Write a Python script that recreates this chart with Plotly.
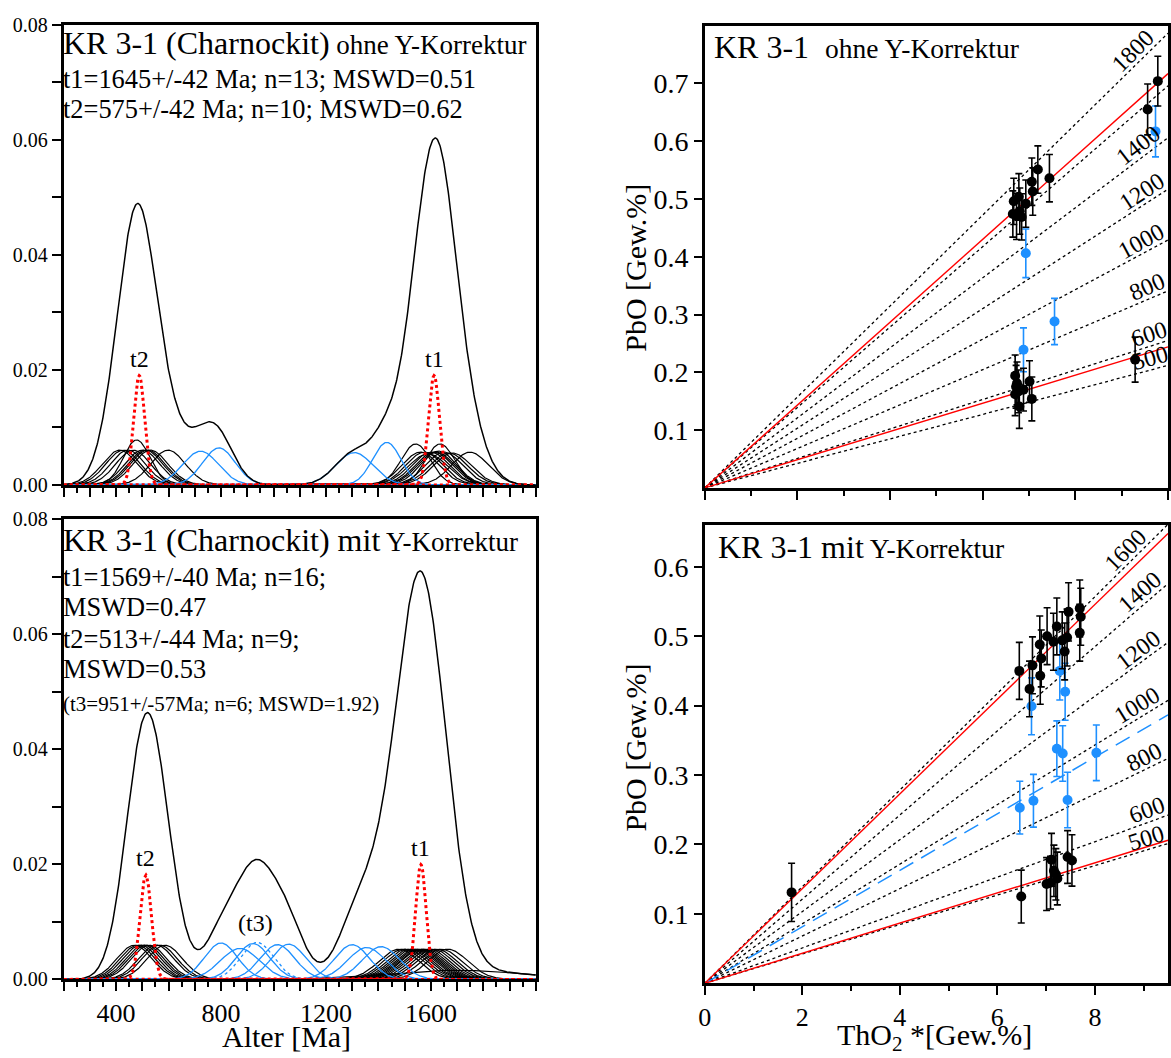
import numpy as np
import plotly.graph_objects as go

# ---------------- data ----------------
# Probability density plots: single analyses (age [Ma], 1-sigma [Ma])
tl_black_age = [414, 427, 445, 465, 478, 500, 512, 520, 531, 598,
                1542, 1560, 1575, 1589, 1600, 1612, 1620, 1629, 1635, 1650, 1668, 1682, 1749]
tl_black_sig = [66, 66, 66, 66, 51, 66, 66, 66, 66, 66,
                56, 70, 70, 74, 70, 70, 70, 68, 56, 70, 72, 72, 70]
tl_blue_age = [722, 792, 1308, 1432]
tl_blue_sig = [68, 62, 71, 54]
tl_red_age = [488, 1612]
tl_red_sig = [21, 21]

bl_black_age = [470, 482, 493, 505, 515, 526, 553, 566, 586,
                1478, 1495, 1508, 1520, 1530, 1540, 1548, 1556, 1563, 1572, 1582, 1594, 1608,
                1622, 1640, 1665, 1700]
bl_black_sig = [67, 67, 67, 67, 67, 67, 67, 67, 67,
                76, 76, 76, 76, 76, 76, 76, 76, 76, 76, 76, 76, 76, 76, 76, 76, 250]
bl_blue_age = [800, 872, 922, 1015, 1058, 1300, 1355, 1410]
bl_blue_sig = [63, 74, 64, 66, 65, 66, 72, 70]
bl_bluedot_age = [938]
bl_bluedot_sig = [62]
bl_red_age = [513, 1562]
bl_red_sig = [22, 20]

# Isochron plots (ThO2* vs PbO, wt%)
tr_black_x = [6.65, 6.67, 6.78, 6.80, 6.84, 6.93, 7.06, 7.08, 7.19, 7.44, 6.73, 9.56, 9.78,
              6.70, 6.74, 6.70, 6.77, 6.79, 6.88, 7.01, 7.06, 9.29, 6.72]
tr_black_y = [0.474, 0.496, 0.504, 0.479, 0.469, 0.492, 0.530, 0.513, 0.551, 0.536, 0.470, 0.655, 0.704,
              0.194, 0.181, 0.162, 0.167, 0.141, 0.170, 0.184, 0.154, 0.222, 0.175]
tr_black_e = [0.040, 0.040, 0.040, 0.040, 0.040, 0.041, 0.041, 0.041, 0.041, 0.041, 0.040, 0.044, 0.043,
              0.036, 0.037, 0.037, 0.037, 0.038, 0.037, 0.036, 0.038, 0.039, 0.037]
tr_blue_x = [9.73, 6.93, 7.55, 6.88]
tr_blue_y = [0.617, 0.406, 0.288, 0.239]
tr_blue_e = [0.044, 0.042, 0.040, 0.038]

br_black_x = [6.45, 6.66, 6.72, 6.88, 6.90, 6.87, 7.02, 7.15, 7.22, 7.33, 7.38, 7.43, 7.46, 7.69, 7.71, 7.69, 1.78,
              6.49, 7.01, 7.09, 7.11, 7.16, 7.20, 7.23, 7.44, 7.53]
br_black_y = [0.450, 0.424, 0.458, 0.443, 0.468, 0.488, 0.500, 0.492, 0.514, 0.494, 0.478, 0.498, 0.535, 0.540,
              0.528, 0.505, 0.131,
              0.125, 0.143, 0.145, 0.178, 0.162, 0.157, 0.151, 0.182, 0.177]
br_black_e = [0.041, 0.040, 0.041, 0.041, 0.041, 0.041, 0.041, 0.041, 0.041, 0.041, 0.041, 0.041, 0.042, 0.041,
              0.041, 0.041, 0.042,
              0.038, 0.038, 0.038, 0.038, 0.037, 0.037, 0.038, 0.038, 0.037]
br_blue_x = [7.28, 7.39, 6.70, 7.22, 7.34, 8.03, 6.46, 6.74, 7.44]
br_blue_y = [0.450, 0.420, 0.399, 0.338, 0.331, 0.332, 0.253, 0.263, 0.264]
br_blue_e = [0.042, 0.041, 0.041, 0.040, 0.040, 0.040, 0.038, 0.038, 0.040]

# reference isochrons (age label, slope PbO/ThO2*, label position along ThO2*)
tr_iso_age = [500, 600, 800, 1000, 1200, 1400, 1600, 1800]
tr_iso_slope = [0.0212, 0.0255, 0.0341, 0.0429, 0.0517, 0.0606, 0.0696, 0.0787]
tr_iso_lab = ["500", "600", "800", "1000", "1200", "1400", "", "1800"]
tr_iso_labx = [9.67, 9.67, 9.64, 9.55, 9.57, 9.52, 9.5, 9.42]
br_iso_age = [500, 600, 800, 1000, 1200, 1400, 1600]
br_iso_slope = [0.0212, 0.0255, 0.0341, 0.0429, 0.0517, 0.0606, 0.0696]
br_iso_lab = ["500", "600", "800", "1000", "1200", "1400", "1600"]
br_iso_labx = [9.12, 9.15, 9.12, 9.0, 9.03, 9.08, 8.8]
tr_fit_slope = [0.0717, 0.0244]     # t1 = 1645 Ma, t2 = 575 Ma
br_fit_slope = [0.0682, 0.0217]     # t1 = 1569 Ma, t2 = 513 Ma
br_t3_slope = [0.0407]              # t3 = 951 Ma

# ---------------- style ----------------
W, H = 1171, 1058
FONT = "Liberation Serif"
BLUE = "#1E90FF"
RED = "#FF0000"
L_X = [57, 532]
R_X = [702, 1168]
TL_Y = [14, 484]
BL_Y = [519, 989]
TR_Y = [15, 487]
BR_Y = [525, 993]
TR_XR = [0, 10]
BR_XR = [0, 9.5]
TR_YR = [0, 0.8]
BR_YR = [0, 0.66]


def dom_x(px):
    return [px[0] / W, px[1] / W]


def dom_y(py):
    return [(H - py[1]) / H, (H - py[0]) / H]


grid = np.arange(200, 2001, 2.0)


def pdf(mu, s):
    return np.exp(-0.5 * ((grid - mu) / s) ** 2) / (s * np.sqrt(2 * np.pi))


fig = go.Figure()


def add_pdf_panel(xa, ya, black_a, black_s, blue_a, blue_s, red_a, red_s, dot_a=(), dot_s=()):
    total = np.zeros_like(grid)
    for a, s in zip(black_a, black_s):
        c = pdf(a, s)
        total += c
        fig.add_trace(go.Scatter(x=grid, y=c, mode="lines", xaxis=xa, yaxis=ya,
                                 line=dict(color="black", width=1.2), showlegend=False, hoverinfo="skip"))
    for a, s in zip(blue_a, blue_s):
        c = pdf(a, s)
        total += c
        fig.add_trace(go.Scatter(x=grid, y=c, mode="lines", xaxis=xa, yaxis=ya,
                                 line=dict(color=BLUE, width=1.3), showlegend=False, hoverinfo="skip"))
    for a, s in zip(dot_a, dot_s):
        c = pdf(a, s)
        total += c
        fig.add_trace(go.Scatter(x=grid, y=c, mode="lines", xaxis=xa, yaxis=ya,
                                 line=dict(color=BLUE, width=1.3, dash="dot"), showlegend=False,
                                 hoverinfo="skip"))
    fig.add_trace(go.Scatter(x=grid, y=total, mode="lines", xaxis=xa, yaxis=ya,
                             line=dict(color="black", width=1.5), showlegend=False, hoverinfo="skip"))
    for a, s in zip(red_a, red_s):
        fig.add_trace(go.Scatter(x=grid, y=pdf(a, s), mode="lines", xaxis=xa, yaxis=ya,
                                 line=dict(color=RED, width=3, dash="dot"), showlegend=False,
                                 hoverinfo="skip"))


add_pdf_panel("x", "y", tl_black_age, tl_black_sig, tl_blue_age, tl_blue_sig, tl_red_age, tl_red_sig)
add_pdf_panel("x3", "y3", bl_black_age, bl_black_sig, bl_blue_age, bl_blue_sig, bl_red_age, bl_red_sig,
              bl_bluedot_age, bl_bluedot_sig)

annotations = []


def add_iso_panel(xa, ya, xr, yr, px_x, px_y, iso_slope, iso_lab, iso_labx, fit_slope, t3_slope,
                  bx, by, be, ux, uy, ue):
    xmax = xr[1]
    sx = (px_x[1] - px_x[0]) / (xr[1] - xr[0])
    sy = (px_y[1] - px_y[0]) / (yr[1] - yr[0])
    for sl, lab, lx in zip(iso_slope, iso_lab, iso_labx):
        fig.add_trace(go.Scatter(x=[0, xmax], y=[0, sl * xmax], mode="lines", xaxis=xa, yaxis=ya,
                                 line=dict(color="black", width=1.3, dash="dot"), showlegend=False,
                                 hoverinfo="skip"))
        if lab:
            ang = np.degrees(np.arctan(sl * sy / sx))
            d = 12
            annotations.append(dict(x=lx, y=sl * lx, xref=xa, yref=ya, text=lab, showarrow=False,
                                    textangle=-ang, font=dict(family=FONT, size=24, color="black"),
                                    xshift=-d * np.sin(np.radians(ang)), yshift=d * np.cos(np.radians(ang))))
    for sl in t3_slope:
        fig.add_trace(go.Scatter(x=[0, xmax], y=[0, sl * xmax], mode="lines", xaxis=xa, yaxis=ya,
                                 line=dict(color=BLUE, width=1.5, dash="16px,9px"), showlegend=False,
                                 hoverinfo="skip"))
    for sl in fit_slope:
        fig.add_trace(go.Scatter(x=[0, xmax], y=[0, sl * xmax], mode="lines", xaxis=xa, yaxis=ya,
                                 line=dict(color=RED, width=1.4), showlegend=False, hoverinfo="skip"))
    fig.add_trace(go.Scatter(x=ux, y=uy, mode="markers", xaxis=xa, yaxis=ya,
                             marker=dict(color=BLUE, size=10),
                             error_y=dict(type="data", array=ue, color=BLUE, thickness=1.6, width=3.5),
                             showlegend=False, hoverinfo="skip"))
    fig.add_trace(go.Scatter(x=bx, y=by, mode="markers", xaxis=xa, yaxis=ya,
                             marker=dict(color="black", size=10),
                             error_y=dict(type="data", array=be, color="black", thickness=1.6, width=3.5),
                             showlegend=False, hoverinfo="skip"))


add_iso_panel("x2", "y2", TR_XR, TR_YR, R_X, TR_Y, tr_iso_slope, tr_iso_lab, tr_iso_labx, tr_fit_slope, [],
              tr_black_x, tr_black_y, tr_black_e, tr_blue_x, tr_blue_y, tr_blue_e)
add_iso_panel("x4", "y4", BR_XR, BR_YR, R_X, BR_Y, br_iso_slope, br_iso_lab, br_iso_labx, br_fit_slope,
              br_t3_slope, br_black_x, br_black_y, br_black_e, br_blue_x, br_blue_y, br_blue_e)

# ---------------- axes ----------------
axcommon = dict(showline=True, linewidth=2.6, linecolor="black", mirror=True, showgrid=False,
                zeroline=False, ticks="outside", tickcolor="black", tickwidth=2, tickangle=0,
                tickfont=dict(family=FONT, color="black"))

age_major = list(range(200, 2001, 100))
age_minor = list(range(250, 2000, 100))
age_text_none = [""] * len(age_major)
age_text = [str(v) if v in (400, 800, 1200, 1600) else "" for v in age_major]
dens_vals = [round(0.01 * i, 2) for i in range(9)]
dens_text = ["%.2f" % v if i % 2 == 0 else "" for i, v in enumerate(dens_vals)]

fig.update_layout(
    width=W, height=H, margin=dict(l=0, r=0, t=0, b=0),
    paper_bgcolor="white", plot_bgcolor="white", showlegend=False,
    xaxis=dict(axcommon, domain=dom_x(L_X), anchor="y", range=[200, 2000], tickvals=age_major,
               ticktext=age_text_none, ticklen=9,
               minor=dict(tickvals=age_minor, ticklen=5, tickwidth=2, ticks="outside", tickcolor="black")),
    yaxis=dict(axcommon, domain=dom_y(TL_Y), anchor="x", range=[0, 0.08], tickvals=dens_vals,
               ticktext=dens_text, ticklen=9, tickfont=dict(family=FONT, size=20, color="black")),
    xaxis3=dict(axcommon, domain=dom_x(L_X), anchor="y3", range=[200, 2000], tickvals=age_major,
                ticktext=age_text, ticklen=9, tickfont=dict(family=FONT, size=26, color="black"),
                minor=dict(tickvals=age_minor, ticklen=5, tickwidth=2, ticks="outside", tickcolor="black")),
    yaxis3=dict(axcommon, domain=dom_y(BL_Y), anchor="x3", range=[0, 0.08], tickvals=dens_vals,
                ticktext=dens_text, ticklen=9, tickfont=dict(family=FONT, size=20, color="black")),
    xaxis2=dict(axcommon, domain=dom_x(R_X), anchor="y2", range=TR_XR, tickvals=[0, 2, 4, 6, 8, 10],
                ticktext=[""] * 6, ticklen=9,
                minor=dict(tickvals=[1, 3, 5, 7, 9], ticklen=5, tickwidth=2, ticks="outside",
                           tickcolor="black")),
    yaxis2=dict(axcommon, domain=dom_y(TR_Y), anchor="x2", range=TR_YR,
                tickvals=[0.1, 0.2, 0.3, 0.4, 0.5, 0.6, 0.7], ticklen=8,
                tickfont=dict(family=FONT, size=28, color="black")),
    xaxis4=dict(axcommon, domain=dom_x(R_X), anchor="y4", range=BR_XR, tickvals=[0, 2, 4, 6, 8],
                ticktext=["0", "2", "4", "6", "8"], ticklen=9, tickfont=dict(family=FONT, size=26, color="black"),
                minor=dict(tickvals=[1, 3, 5, 7, 9], ticklen=5, tickwidth=2, ticks="outside",
                           tickcolor="black")),
    yaxis4=dict(axcommon, domain=dom_y(BR_Y), anchor="x4", range=BR_YR,
                tickvals=[0.1, 0.2, 0.3, 0.4, 0.5, 0.6], ticklen=8,
                tickfont=dict(family=FONT, size=28, color="black")),
)


def pa(px, py, text, size, xanchor="left", yanchor="middle", angle=0):
    annotations.append(dict(x=px / W, y=(H - py) / H, xref="paper", yref="paper", text=text,
                            showarrow=False, xanchor=xanchor, yanchor=yanchor, textangle=angle,
                            font=dict(family=FONT, size=size, color="black")))


# left panel texts
pa(54, 33, "KR 3-1 (Charnockit)<span style='font-size:27px'> ohne Y-Korrektur</span>", 32)
pa(54, 69, "t1=1645+/-42 Ma; n=13; MSWD=0.51", 26.4)
pa(54, 100, "t2=575+/-42 Ma; n=10; MSWD=0.62", 26.4)
pa(54, 540, "KR 3-1 (Charnockit) mit<span style='font-size:27px'> Y-Korrektur</span>", 32)
pa(54, 578, "t1=1569+/-40 Ma; n=16;", 26.4)
pa(54, 609, "MSWD=0.47", 26.4)
pa(54, 641, "t2=513+/-44 Ma; n=9;", 26.4)
pa(54, 672, "MSWD=0.53", 26.4)
pa(54, 708, "(t3=951+/-57Ma; n=6; MSWD=1.92)", 21)

# peak labels (data coords)
for xa, ya, ages, sigs in (("x", "y", tl_red_age, tl_red_sig), ("x3", "y3", bl_red_age, bl_red_sig)):
    for lab, a, s in zip(["t2", "t1"], ages, sigs):
        peak = 1 / (s * np.sqrt(2 * np.pi))
        annotations.append(dict(x=a, y=peak, xref=xa, yref=ya, text=lab, showarrow=False, yanchor="bottom",
                                yshift=2, font=dict(family=FONT, size=24, color="black")))
annotations.append(dict(x=930, y=0.0072, xref="x3", yref="y3", text="(t3)", showarrow=False,
                        yanchor="bottom", font=dict(family=FONT, size=24, color="black")))

# right panel texts
pa(709, 37, "KR 3-1\u00a0\u00a0<span style='font-size:27.5px'>ohne Y-Korrektur</span>", 32)
pa(713, 547, "KR 3-1 mit<span style='font-size:27.5px'> Y-Korrektur</span>", 32)

# axis titles
pa(281, 1047, "Alter [Ma]", 30, xanchor="center")
pa(933, 1048, "ThO<sub>2</sub> *[Gew.%]", 30, xanchor="center")
pa(632, 262, "PbO [Gew.%]", 30, xanchor="center", angle=-90)
pa(632, 752, "PbO [Gew.%]", 30, xanchor="center", angle=-90)

fig.update_layout(annotations=annotations)
fig.write_html("out.html", config={"displayModeBar": False},
               post_script="document.body.style.margin='0px';document.body.style.overflow='hidden';")
